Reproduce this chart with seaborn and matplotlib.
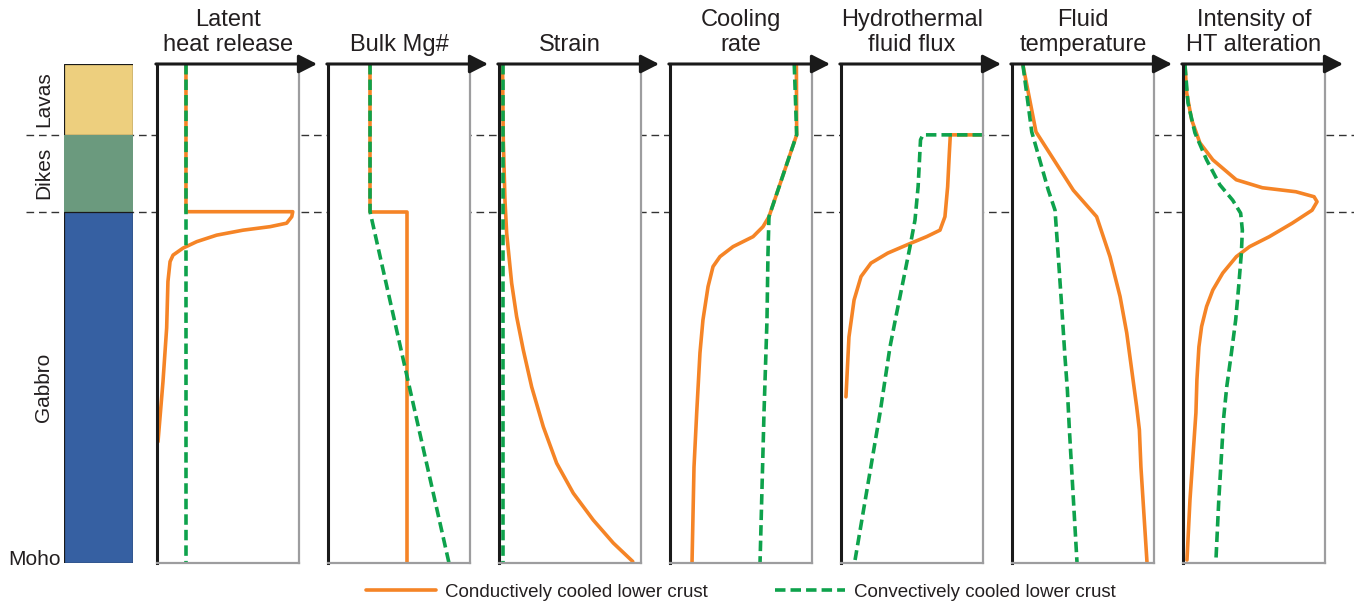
import pandas as pd
import matplotlib.pyplot as plt
import seaborn as sns

# depth is a fraction of the crust: 0 = seafloor, 1 = Moho
layer_names = ['Lavas', 'Dikes', 'Gabbro']
layer_tops = [0.0, 0.142, 0.296]
layer_bottoms = [0.142, 0.296, 1.0]
layer_colors = ['#EDCF7E', '#6B9A7E', '#3660A2']

titles = ['Latent\nheat release', 'Bulk Mg#', 'Strain', 'Cooling\nrate',
          'Hydrothermal\nfluid flux', 'Fluid\ntemperature', 'Intensity of\nHT alteration']

cond = 'Conductively cooled lower crust'
conv = 'Convectively cooled lower crust'

# relative value (0-1 across the panel) vs depth
heat_cond_x = [0.204, 0.204, 0.956, 0.949, 0.913, 0.796, 0.606, 0.42, 0.28, 0.183, 0.113, 0.092, 0.077, 0.068, 0.042, 0.007]
heat_cond_d = [0.0, 0.296, 0.296, 0.306, 0.319, 0.326, 0.333, 0.343, 0.356, 0.369, 0.383, 0.396, 0.436, 0.529, 0.637, 0.757]
heat_conv_x = [0.204, 0.204]
heat_conv_d = [0.0, 1.0]

mg_cond_x = [0.296, 0.296, 0.556, 0.556]
mg_cond_d = [0.0, 0.296, 0.296, 1.0]
mg_conv_x = [0.296, 0.296, 0.852]
mg_conv_d = [0.0, 0.296, 1.0]

strain_cond_x = [0.025, 0.03, 0.042, 0.054, 0.089, 0.124, 0.171, 0.23, 0.312, 0.406, 0.523, 0.664, 0.805, 0.942]
strain_cond_d = [0.0, 0.15, 0.273, 0.339, 0.439, 0.506, 0.573, 0.647, 0.727, 0.8, 0.86, 0.914, 0.96, 0.997]
strain_conv_x = [0.03, 0.03]
strain_conv_d = [0.0, 1.0]

cool_cond_x = [0.89, 0.892, 0.697, 0.655, 0.585, 0.444, 0.352, 0.303, 0.268, 0.232, 0.211, 0.188, 0.169, 0.155]
cool_cond_d = [0.0, 0.142, 0.306, 0.326, 0.346, 0.366, 0.386, 0.406, 0.446, 0.513, 0.579, 0.699, 0.808, 1.0]
cool_conv_x = [0.875, 0.892, 0.697, 0.69, 0.683, 0.662, 0.634]
cool_conv_d = [0.0, 0.142, 0.306, 0.38, 0.513, 0.699, 1.0]

flux_cond_x = [1.0, 0.77, 0.763, 0.751, 0.732, 0.697, 0.603, 0.493, 0.329, 0.211, 0.141, 0.092, 0.056, 0.035]
flux_cond_d = [0.142, 0.142, 0.178, 0.246, 0.306, 0.333, 0.346, 0.359, 0.379, 0.399, 0.426, 0.473, 0.547, 0.667]
flux_conv_x = [1.0, 0.577, 0.56, 0.543, 0.521, 0.486, 0.439, 0.392, 0.345, 0.275, 0.099]
flux_conv_d = [0.142, 0.142, 0.152, 0.246, 0.313, 0.366, 0.433, 0.499, 0.567, 0.699, 0.994]

temp_cond_x = [0.077, 0.169, 0.432, 0.596, 0.69, 0.761, 0.808, 0.843, 0.878, 0.897, 0.908, 0.951]
temp_cond_d = [0.002, 0.136, 0.253, 0.306, 0.386, 0.466, 0.539, 0.613, 0.687, 0.733, 0.808, 1.0]
temp_conv_x = [0.077, 0.139, 0.256, 0.303, 0.326, 0.35, 0.373, 0.39, 0.403, 0.458]
temp_conv_d = [0.002, 0.136, 0.253, 0.293, 0.386, 0.486, 0.587, 0.653, 0.727, 1.0]

alt_cond_x = [0.014, 0.026, 0.061, 0.119, 0.21, 0.375, 0.559, 0.795, 0.923, 0.944, 0.909, 0.769, 0.608,
              0.469, 0.376, 0.28, 0.21, 0.166, 0.131, 0.112, 0.098, 0.091, 0.049, 0.028]
alt_cond_d = [0.002, 0.058, 0.112, 0.158, 0.192, 0.232, 0.248, 0.256, 0.266, 0.276, 0.293, 0.319, 0.346,
              0.366, 0.386, 0.419, 0.453, 0.486, 0.526, 0.567, 0.633, 0.699, 0.874, 0.994]
alt_conv_x = [0.014, 0.035, 0.084, 0.166, 0.259, 0.35, 0.406, 0.418, 0.411, 0.392, 0.371, 0.341, 0.308,
              0.287, 0.252, 0.231]
alt_conv_d = [0.002, 0.078, 0.138, 0.192, 0.242, 0.273, 0.299, 0.333, 0.379, 0.446, 0.513, 0.579, 0.647,
              0.707, 0.874, 1.0]

curves = [
    (heat_cond_x, heat_cond_d, heat_conv_x, heat_conv_d),
    (mg_cond_x, mg_cond_d, mg_conv_x, mg_conv_d),
    (strain_cond_x, strain_cond_d, strain_conv_x, strain_conv_d),
    (cool_cond_x, cool_cond_d, cool_conv_x, cool_conv_d),
    (flux_cond_x, flux_cond_d, flux_conv_x, flux_conv_d),
    (temp_cond_x, temp_cond_d, temp_conv_x, temp_conv_d),
    (alt_cond_x, alt_cond_d, alt_conv_x, alt_conv_d),
]

orange = '#F58426'
green = '#0EA24C'
ink = '#231F20'

sns.set_style('white')
plt.rcParams['font.family'] = ['Liberation Sans', 'DejaVu Sans']

W, H = 1354, 604
fig = plt.figure(figsize=(W / 100, H / 100), dpi=100)
bot = (H - 563) / H
hgt = 499 / H

# dashed boundary lines behind everything
bg = fig.add_axes([0, bot, 1, hgt])
bg.set_xlim(0, 1)
bg.set_ylim(1, 0)
bg.axis('off')
for b in layer_bottoms[:-1]:
    bg.axhline(b, xmin=26 / W, xmax=1, color='#333333', lw=1.0, dashes=(5.5, 3.5))

# stratigraphic column
col = fig.add_axes([64 / W, bot, 69 / W, hgt])
col.patch.set_alpha(0)
for name, top, base, c in zip(layer_names, layer_tops, layer_bottoms, layer_colors):
    ec = 'none' if name == 'Dikes' else '#1a1a1a'
    col.bar(0, base - top, bottom=top, width=1, color=c, edgecolor=ec, linewidth=0.9)
    col.text(-0.29, (top + base) / 2, name, rotation=90, ha='center', va='center',
             fontsize=15, color=ink, transform=col.get_yaxis_transform())
col.text(-0.04, 0.992, 'Moho', ha='right', va='center', fontsize=15, color=ink,
         transform=col.get_yaxis_transform())
col.set_xlim(-0.5, 0.5)
col.set_ylim(1, 0)
col.axis('off')

axes = []
for i, (cx, cd, vx, vd) in enumerate(curves):
    ax = fig.add_axes([(157 + 171 * i) / W, bot, 142 / W, hgt])
    axes.append(ax)
    df = pd.concat([
        pd.DataFrame({'value': cx, 'depth': cd, 'cooling': cond}),
        pd.DataFrame({'value': vx, 'depth': vd, 'cooling': conv}),
    ], ignore_index=True)
    sns.lineplot(data=df, x='value', y='depth', hue='cooling', style='cooling',
                 hue_order=[cond, conv], style_order=[cond, conv],
                 palette={cond: orange, conv: green}, dashes={cond: '', conv: (2.9, 1.4)},
                 sort=False, estimator=None, linewidth=2.6, legend=False, ax=ax)
    ax.set_xlim(0, 1)
    ax.set_ylim(1, 0)
    ax.set_xticks([])
    ax.set_yticks([])
    ax.set_xlabel('')
    ax.set_ylabel('')
    ax.spines['top'].set_visible(False)
    ax.spines['left'].set_color('#1a1a1a')
    ax.spines['left'].set_linewidth(2.2)
    for s in ['right', 'bottom']:
        ax.spines[s].set_color('#9d9d9f')
        ax.spines[s].set_linewidth(1.6)
    ax.annotate('', xy=(1.127, 1), xytext=(-0.008, 1), xycoords='axes fraction',
                textcoords='axes fraction', annotation_clip=False,
                arrowprops=dict(arrowstyle='-|>,head_length=0.55,head_width=0.28',
                                color='#1a1a1a', lw=2.2, shrinkA=0, shrinkB=0,
                                mutation_scale=20))
    # title lines placed by baseline, last line lowest
    lines = titles[i].split('\n')
    for k, line in enumerate(reversed(lines)):
        ax.text(0.5, 1.0267 + k * 0.0495, line, transform=ax.transAxes,
                ha='center', va='baseline', fontsize=17, color=ink)

handles = axes[0].get_lines()[:2]
fig.legend(handles, [cond, conv], loc='center', bbox_to_anchor=(741 / W, 1 - 592 / H),
           ncol=2, frameon=False, fontsize=13.5, handlelength=3.7, handletextpad=0.5,
           columnspacing=3.6, labelcolor=ink)

fig.savefig('out.png', dpi=100)
